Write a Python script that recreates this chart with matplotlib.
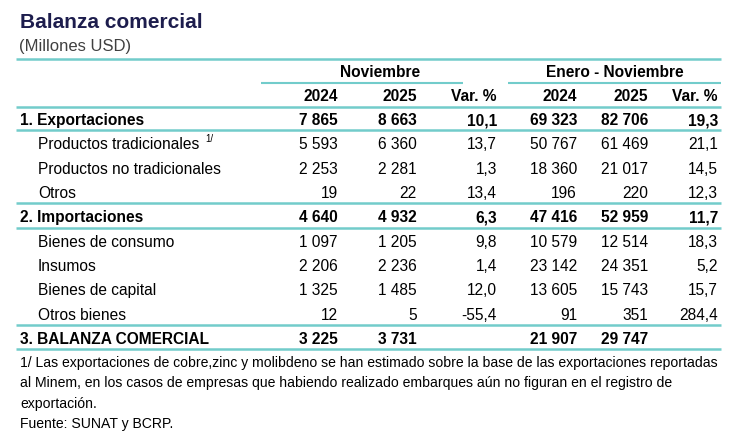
import matplotlib.pyplot as plt

plt.rcParams['font.family'] = ['Liberation Sans', 'DejaVu Sans']

# Table data
row_labels = ['1. Exportaciones', 'Productos tradicionales', 'Productos no tradicionales', 'Otros',
              '2. Importaciones', 'Bienes de consumo', 'Insumos', 'Bienes de capital', 'Otros bienes',
              '3. BALANZA COMERCIAL']
bold_rows = [0, 4, 9]
nov_2024 = [7865, 5593, 2253, 19, 4640, 1097, 2206, 1325, 12, 3225]
nov_2025 = [8663, 6360, 2281, 22, 4932, 1205, 2236, 1485, 5, 3731]
nov_var = [10.1, 13.7, 1.3, 13.4, 6.3, 9.8, 1.4, 12.0, -55.4, None]
ene_2024 = [69323, 50767, 18360, 196, 47416, 10579, 23142, 13605, 91, 21907]
ene_2025 = [82706, 61469, 21017, 220, 52959, 12514, 24351, 15743, 351, 29747]
ene_var = [19.3, 21.1, 14.5, 12.3, 11.7, 18.3, 5.2, 15.7, 284.4, None]
col_headers = ['2024', '2025', 'Var. %', '2024', '2025', 'Var. %']
group_headers = ['Noviembre', 'Enero - Noviembre']
footnote = ['1/ Las exportaciones de cobre,zinc y molibdeno se han estimado sobre la base de las exportaciones reportadas',
            'al Minem, en los casos de empresas que habiendo realizado embarques aún no figuran en el registro de',
            'exportación.']
source = 'Fuente: SUNAT y BCRP.'

TEAL = '#72cccb'
NAVY = '#1d1d4d'
FS = 11.2


def fmt_int(v):
    return f'{v:,}'.replace(',', ' ')


def fmt_pct(v):
    if v is None:
        return ''
    return f'{v:.1f}'.replace('.', ',')


fig = plt.figure(figsize=(7.37, 4.36), dpi=100)
ax = fig.add_axes([0, 0, 1, 1])
ax.set_xlim(0, 737)
ax.set_ylim(436, 0)
ax.axis('off')

# title
ax.text(20, 23, 'Balanza comercial', fontsize=15, fontweight='bold', color=NAVY, va='center')
ax.text(19, 47, '(Millones USD)', fontsize=12, color='#404040', va='center')

col_x = [338, 417, 497, 577, 648, 718]
x0, x1 = 16, 721
dy = 1.5  # visual centring offset

# header
ax.plot([x0, x1], [59, 59], color=TEAL, lw=1.8, solid_capstyle='butt')
ax.text(380, 71 + dy, group_headers[0], fontsize=FS, fontweight='bold', ha='center', va='center')
ax.text(615, 71 + dy, group_headers[1], fontsize=FS, fontweight='bold', ha='center', va='center')
ax.plot([261, 463], [83, 83], color=TEAL, lw=1.5, solid_capstyle='butt')
ax.plot([508, x1], [83, 83], color=TEAL, lw=1.5, solid_capstyle='butt')
for x, h in zip(col_x, col_headers):
    ax.text(x, 95 + dy, h, fontsize=FS, fontweight='bold', ha='right', va='center')
ax.plot([x0, x1], [107, 107], color=TEAL, lw=1.8, solid_capstyle='butt')

# rows
row_y = [119 + 24.33 * i for i in range(len(row_labels))]
for i, lab in enumerate(row_labels):
    y = row_y[i]
    bold = i in bold_rows
    w = 'bold' if bold else 'normal'
    lx = 20 if bold else 38
    ax.text(lx, y + dy, lab, fontsize=FS, fontweight=w, va='center')
    vals = [fmt_int(nov_2024[i]), fmt_int(nov_2025[i]), fmt_pct(nov_var[i]),
            fmt_int(ene_2024[i]), fmt_int(ene_2025[i]), fmt_pct(ene_var[i])]
    for x, v in zip(col_x, vals):
        ax.text(x, y + dy, v, fontsize=FS, fontweight=w, ha='right', va='center')
    if bold or i in (3, 8):
        ax.plot([x0, x1], [y + 11.5, y + 11.5], color=TEAL, lw=1.8, solid_capstyle='butt')

# superscript on tradicionales
ax.text(205, row_y[1] - 4, '1/', fontsize=7, va='center')

# footnote
for j, line in enumerate(footnote):
    ax.text(20, 361 + dy + 20.5 * j, line, fontsize=10.1, va='center')
ax.text(20, 422 + dy, source, fontsize=10.1, va='center')

fig.savefig('out.png', dpi=100)
